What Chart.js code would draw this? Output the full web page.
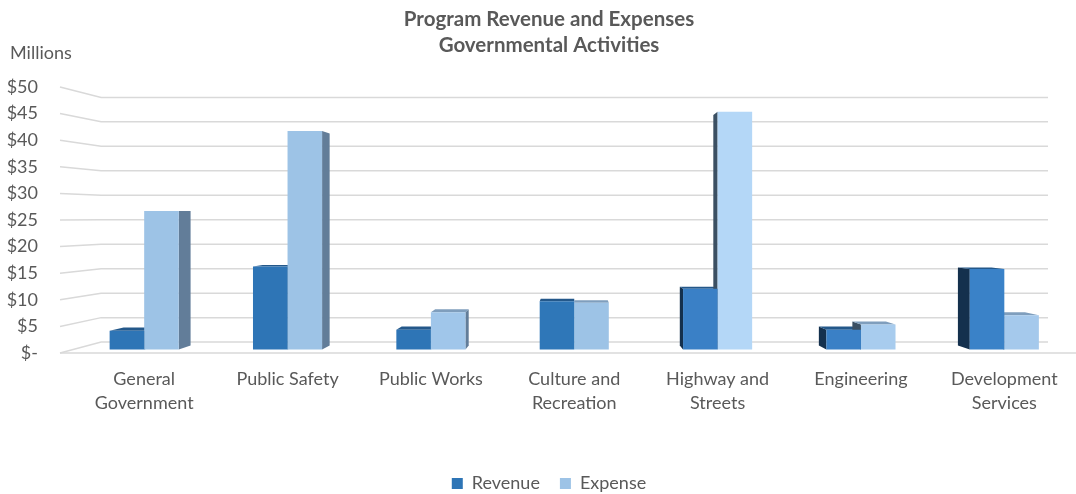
<!DOCTYPE html>
<html><head><meta charset="utf-8">
<script src="https://cdn.jsdelivr.net/npm/chart.js@4.4.1/dist/chart.umd.min.js"></script>
<style>html,body{margin:0;padding:0;background:#fff}#wrap{width:1076px;height:494px;position:relative}</style>
</head><body><div id="wrap"><canvas id="c"></canvas></div>
<script>
// ---- data ----
const categories = [['General','Government'],['Public Safety'],['Public Works'],['Culture and','Recreation'],['Highway and','Streets'],['Engineering'],['Development','Services']];
const seriesNames = ['Revenue','Expense'];
const revenue = [3.6, 16.0, 3.8, 9.3, 11.7, 3.8, 15.5];
const expense = [26.7, 42.1, 7.2, 9.0, 45.8, 4.8, 6.6];
const tickValues = [0,5,10,15,20,25,30,35,40,45,50];
const tickLabels = ['$-','$5','$10','$15','$20','$25','$30','$35','$40','$45','$50'];
const titleLines = ['Program Revenue and Expenses','Governmental Activities'];
const unitLabel = 'Millions';

// ---- styles ----
const FONT = 'Lato, "Open Sans", sans-serif';
const TEXT = '#595959';
const revFront = ['#2E75B6','#2E75B6','#2E75B6','#2F77B8','#3A80C6','#3A80C6','#3A82C8'];
const expFront = ['#9DC3E6','#9DC3E6','#A0C6EA','#9DC3E6','#B4D7F7','#A8CCEE','#A5C9EC'];
const sideColors = {rightOfVP:['#14304D','#3B5063'], leftOfVP:['#1F4E79','#627D99']};
const topColors = ['#24588A','#7F9EBD'];
const VP_VALUE = 25.6;     // vanishing point height on the front-plane scale
const BAR_DEPTH = 0.03;    // perspective factor of the bar depth
const WALL_DEPTH = 0.08;   // perspective factor of the back wall

function poly(ctx, pts, color){
  ctx.beginPath(); ctx.moveTo(pts[0][0], pts[0][1]);
  for (let i=1;i<pts.length;i++) ctx.lineTo(pts[i][0], pts[i][1]);
  ctx.closePath(); ctx.fillStyle = color; ctx.fill();
}

const excel3d = {
  id:'excel3d',
  beforeDatasetsDraw(chart){
    const {ctx, chartArea:ca} = chart;
    const yf = chart.scales.yf;
    const vx = (ca.left + ca.right)/2;
    const vy = yf.getPixelForValue(VP_VALUE);
    const back = (p,k) => [p[0] + k*(vx-p[0]), p[1] + k*(vy-p[1])];
    ctx.save();
    const xF = ca.left - 12.5;
    const xBR = ca.right - 28;
    ctx.strokeStyle = '#D9D9D9'; ctx.lineWidth = 1.5;
    tickValues.forEach(v => {
      const yF = yf.getPixelForValue(v);
      const b = back([xF, yF], WALL_DEPTH);
      ctx.beginPath(); ctx.moveTo(xF, yF); ctx.lineTo(b[0], b[1]); ctx.lineTo(xBR, b[1]); ctx.stroke();
    });
    const y0 = yf.getPixelForValue(0);
    ctx.beginPath(); ctx.moveTo(xF, y0); ctx.lineTo(ca.right, y0); ctx.stroke();
    chart.data.datasets.forEach((ds, d) => {
      const meta = chart.getDatasetMeta(d);
      meta.data.forEach(el => {
        const x1 = el.x - el.width/2, x2 = el.x + el.width/2, yt = el.y, yb = el.base;
        if (el.x < vx) {
          poly(ctx, [[x2,yt],[x2,yb], back([x2,yb],BAR_DEPTH), back([x2,yt],BAR_DEPTH)], sideColors.leftOfVP[d]);
        } else {
          poly(ctx, [[x1,yt],[x1,yb], back([x1,yb],BAR_DEPTH), back([x1,yt],BAR_DEPTH)], sideColors.rightOfVP[d]);
        }
        if (yt > vy) {
          poly(ctx, [[x1,yt],[x2,yt], back([x2,yt],BAR_DEPTH), back([x1,yt],BAR_DEPTH)], topColors[d]);
        }
      });
    });
    ctx.restore();
  },
  afterDraw(chart){
    const {ctx} = chart;
    const yf = chart.scales.yf;
    ctx.save();
    ctx.font = '18px ' + FONT;
    ctx.fillStyle = TEXT; ctx.textAlign = 'left'; ctx.textBaseline = 'middle';
    ctx.fillText(unitLabel, yf.left - 12, yf.getPixelForValue(50) - 34);
    ctx.restore();
  }
};

const colorFn = (arr, def) => (c) => (c.type === 'data' && c.dataIndex !== undefined) ? arr[c.dataIndex] : def;

new Chart(document.getElementById('c'), {
  type:'bar',
  data:{
    labels: categories,
    datasets:[
      {label: seriesNames[0], data: revenue, backgroundColor: colorFn(revFront,'#2E75B6'), yAxisID:'y', borderWidth:0, categoryPercentage:0.482, barPercentage:1},
      {label: seriesNames[1], data: expense, backgroundColor: colorFn(expFront,'#9DC3E6'), yAxisID:'y', borderWidth:0, categoryPercentage:0.482, barPercentage:1}
    ]
  },
  options:{
    responsive:true, maintainAspectRatio:false, animation:false,
    layout:{padding:{left:22, top:6, right:0, bottom:0}},
    plugins:{
      title:{display:true, text:titleLines, color:TEXT, font:{family:FONT, size:20.5, weight:'bold', lineHeight:26/20.5}, padding:{top:0,bottom:29}},
      legend:{position:'bottom', maxHeight:39.5, labels:{color:TEXT, font:{family:FONT, size:18}, boxWidth:11, boxHeight:11, padding:20}},
      tooltip:{enabled:false}
    },
    scales:{
      x:{grid:{display:false, drawTicks:false}, border:{display:false},
         ticks:{color:TEXT, font:{family:FONT, size:18, lineHeight:24/18}, padding:14.5, maxRotation:0, autoSkip:false},
         afterFit(s){ s.height = 101.5; }},
      y:{axis:'y', display:false, min:-0.67, max:50.58},
      yf:{axis:'y', position:'left', min:0, max:50,
          grid:{display:false, drawTicks:false}, border:{display:false},
          ticks:{stepSize:5, color:TEXT, font:{family:FONT, size:18}, padding:34.5,
                 callback:(v)=>{ const i = tickValues.indexOf(v); return i>=0 ? tickLabels[i] : ''; }},
          afterFit(s){ s.width = 50.5; s._computeLabelArea = () => undefined; }}
    }
  },
  plugins:[excel3d]
});
</script></body></html>
